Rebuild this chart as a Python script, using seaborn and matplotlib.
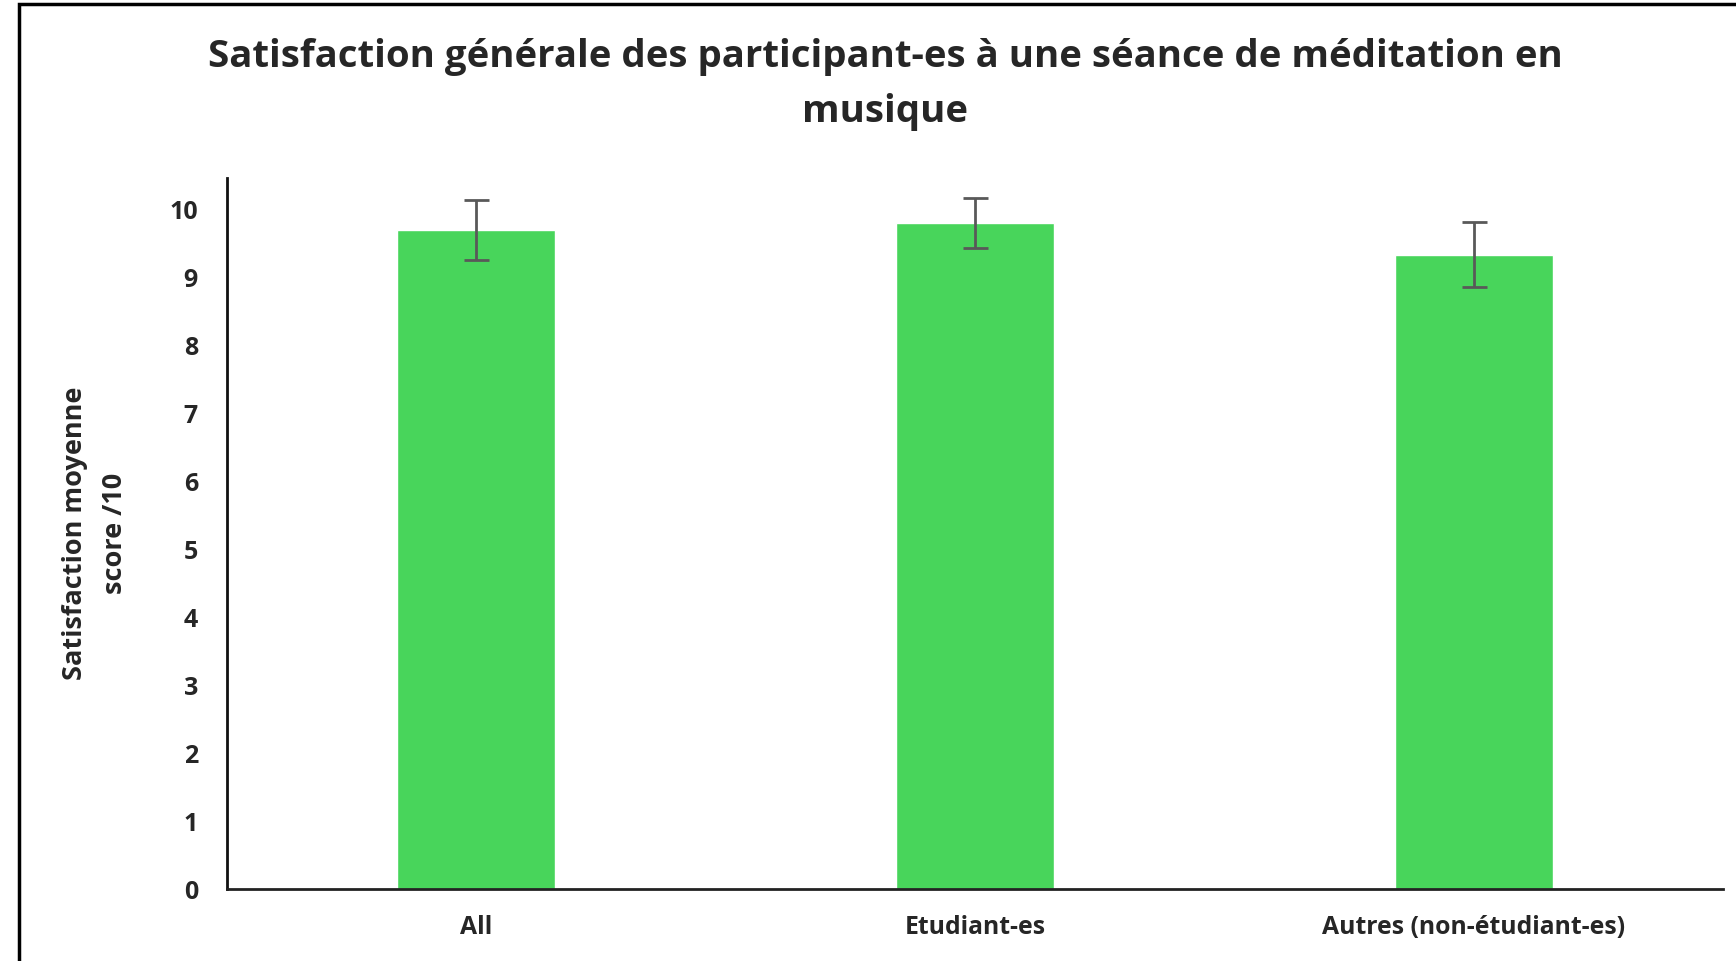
import seaborn as sns
from matplotlib import pyplot as plt
from matplotlib.patches import Rectangle
import pandas as pd

groups = ['All', 'Etudiant-es', 'Autres (non-étudiant-es)']
means = [9.70, 9.81, 9.34]
errors = [0.44, 0.37, 0.48]

title = 'Satisfaction générale des participant-es à une séance de méditation en\nmusique'
ylabel = 'Satisfaction moyenne\nscore /10'

df = pd.DataFrame({'group': groups, 'mean': means})

sns.set_theme(style="ticks")
plt.rcParams['font.family'] = ['Open Sans', 'DejaVu Sans']
plt.rcParams['font.weight'] = 'bold'

fig = plt.figure(figsize=(17.36, 9.61), dpi=100)
ax = fig.add_axes([0.1308, 0.0749, 0.8617, 0.7399])

sns.barplot(data=df, x='group', y='mean', color='#48d55b', saturation=1,
            width=0.317, errorbar=None, ax=ax)
ax.errorbar(x=range(len(groups)), y=means, yerr=errors, fmt='none',
            ecolor='#595959', elinewidth=2, capsize=9, capthick=2)

ax.set_xlim(-0.5, len(groups) - 0.5)
ax.set_ylim(0, 10.47)
ax.set_yticks(range(11))
ax.set_xlabel('')
ax.set_ylabel('')
ax.tick_params(axis='y', length=0, labelsize=18, pad=21)
ax.tick_params(axis='x', length=0, labelsize=17.8, pad=19)
for lab in ax.get_xticklabels() + ax.get_yticklabels():
    lab.set_fontweight('bold')

ax.spines['top'].set_visible(False)
ax.spines['right'].set_visible(False)
ax.spines['left'].set_linewidth(2)
ax.spines['bottom'].set_linewidth(2)
ax.spines['left'].set_color('#111111')
ax.spines['bottom'].set_color('#222222')

fig.text(0.510, 0.912, title, ha='center', va='center', fontsize=27.6,
         fontweight='bold', linespacing=1.6)
fig.text(0.0548, 0.445, ylabel, ha='center', va='center', rotation=90,
         fontsize=19.5, fontweight='bold', linespacing=1.72)

fig.patches.append(Rectangle((0.011, -0.1), 1.2, 1.0958, transform=fig.transFigure,
                             fill=False, edgecolor='black', linewidth=2.5))

fig.savefig('out.png', dpi=100, facecolor='white')
plt.close(fig)
